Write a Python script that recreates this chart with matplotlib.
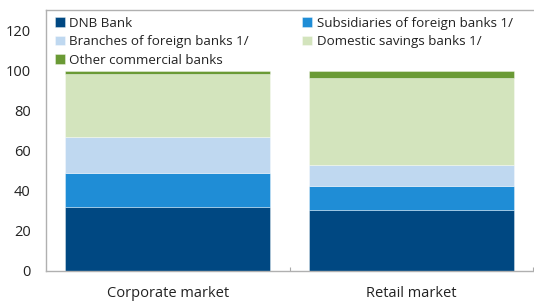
import matplotlib
matplotlib.use("Agg")
import matplotlib.pyplot as plt
import numpy as np

categories = ["Corporate market", "Retail market"]
series_names = ["DNB Bank", "Subsidiaries of foreign banks 1/",
                "Branches of foreign banks 1/", "Domestic savings banks 1/",
                "Other commercial banks"]
dnb = [32.2, 30.7]
subsidiaries = [16.6, 12.0]
branches = [18.0, 10.5]
domestic = [31.7, 43.5]
other = [1.5, 3.3]
yticks = [0, 20, 40, 60, 80, 100, 120]

colors = ["#004882", "#1f8dd6", "#bfd8f0", "#d3e4bd", "#6a9a35"]

plt.rcParams['font.family'] = ['Open Sans', 'DejaVu Sans']

fig = plt.figure(figsize=(5.34, 3.02), dpi=100)
ax = fig.add_axes([46/534, 1-271/302, (533-46)/534, (271-10)/302])

x = np.arange(len(categories))
bottom = np.zeros(len(categories))
handles = []
for name, vals, c in zip(series_names, [dnb, subsidiaries, branches, domestic, other], colors):
    h = ax.bar(x, vals, bottom=bottom, width=0.84, color=c, label=name,
               edgecolor=(1, 1, 1, 0.5), linewidth=0.5)
    handles.append(h)
    bottom += np.array(vals)

ax.set_xlim(-0.5, 1.5)
ax.set_ylim(0, 130.5)
ax.set_yticks(yticks)
ax.set_yticklabels([str(v) for v in yticks], fontsize=10.5, color="#222222")
ax.tick_params(axis='y', length=0, pad=11)
ax.set_xticks([0.5, 1.5], minor=False)
ax.set_xticklabels(["", ""])
ax.tick_params(axis='x', direction='in', length=3, color="#aaaaaa")
ax.set_xticks(x, minor=True)
ax.set_xticklabels(categories, minor=True, fontsize=10.5, color="#222222")
ax.tick_params(axis='x', which='minor', length=0, pad=11)

for s in ['left', 'bottom', 'top']:
    ax.spines[s].set_color("#b0b0b0")
    ax.spines[s].set_linewidth(1)
    ax.spines[s].set_zorder(5)
ax.spines['right'].set_visible(False)

order = [0, 2, 4, 1, 3]
leg = ax.legend([handles[i] for i in order], [series_names[i] for i in order],
                loc='upper left', ncol=2, frameon=False, fontsize=9.6,
                bbox_to_anchor=(0.018, 0.975), handlelength=0.75, handleheight=0.75,
                handletextpad=0.35, columnspacing=4.0, labelspacing=0.42,
                borderaxespad=0, borderpad=0)
for t in leg.get_texts():
    t.set_color("#222222")

fig.text(0.005, 1.022, "(In percent; end of 2014)", color="#2e9bd6", fontsize=9,
         va='center', ha='left')

fig.savefig("out.png", dpi=100)
